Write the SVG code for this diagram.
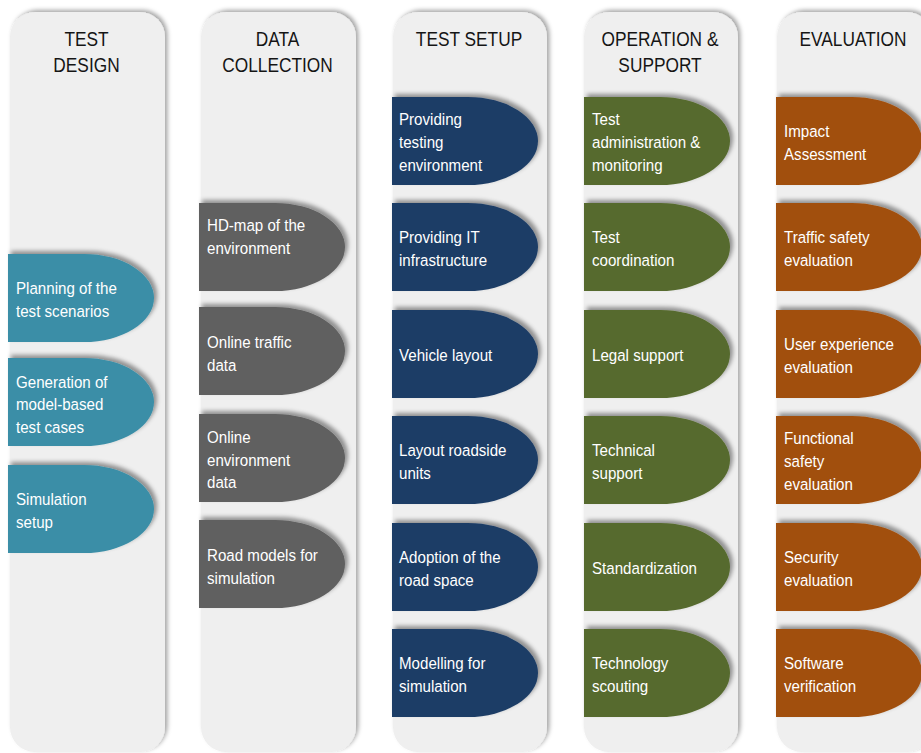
<svg xmlns="http://www.w3.org/2000/svg" width="921" height="753" viewBox="0 0 921 753">
  <defs>
    <filter id="panelShadow" x="-10%" y="-5%" width="120%" height="110%">
      <feDropShadow dx="2.5" dy="-2" stdDeviation="2" flood-color="#000" flood-opacity="0.35"/>
    </filter>
    <filter id="nodeShadow" x="-10%" y="-20%" width="120%" height="140%">
      <feDropShadow dx="3" dy="-3" stdDeviation="2.2" flood-color="#000" flood-opacity="0.4"/>
    </filter>
    <!-- delay-style node: flat left part, half-ellipse right part -->
    <path id="node" d="M0,0 H76 A70,44 0 0 1 76,88 H0 Z"/>
    <style>
      .panel { fill: #efefef; filter: url(#panelShadow); }
      .head { font-family: "Liberation Sans", Arial, sans-serif; font-size: 20px; fill: #151515; text-anchor: middle; }
      .lbl { font-family: "Liberation Sans", Arial, sans-serif; font-size: 16.8px; fill: #ffffff; }
      .nd { filter: url(#nodeShadow); }
      .c1 { fill: #3a8ea7; }
      .c2 { fill: #606060; }
      .c3 { fill: #1f3e66; }
      .c4 { fill: #566a2e; }
      .c5 { fill: #a1500f; }
    </style>
  </defs>

  <rect width="921" height="753" fill="#ffffff"/>

  <!-- column panels with headers -->
  <g id="col-test-design">
    <rect class="panel" x="10" y="12" width="155" height="740" rx="25"/>
    <text class="head" transform="matrix(0.865 0 0 1 86.5 46)"><tspan x="0" y="0">TEST</tspan><tspan x="0" y="26">DESIGN</tspan></text>
  </g>
  <g id="col-data-collection">
    <rect class="panel" x="201" y="12" width="155" height="740" rx="25"/>
    <text class="head" transform="matrix(0.865 0 0 1 277.5 46)"><tspan x="0" y="0">DATA</tspan><tspan x="0" y="26">COLLECTION</tspan></text>
  </g>
  <g id="col-test-setup">
    <rect class="panel" x="393" y="12" width="154" height="740" rx="25"/>
    <text class="head" transform="matrix(0.865 0 0 1 469 46)"><tspan x="0" y="0">TEST SETUP</tspan></text>
  </g>
  <g id="col-operation-support">
    <rect class="panel" x="584" y="12" width="154" height="740" rx="25"/>
    <text class="head" transform="matrix(0.865 0 0 1 660 46)"><tspan x="0" y="0">OPERATION &amp;</tspan><tspan x="0" y="26">SUPPORT</tspan></text>
  </g>
  <g id="col-evaluation">
    <rect class="panel" x="777" y="12" width="155" height="740" rx="25"/>
    <text class="head" transform="matrix(0.865 0 0 1 853 46)"><tspan x="0" y="0">EVALUATION</tspan></text>
  </g>

  <!-- TEST DESIGN nodes -->
  <g id="planning-test-scenarios">
    <use href="#node" class="nd c1" transform="translate(8 254)"/>
    <text class="lbl" transform="matrix(0.9 0 0 1 16 294)"><tspan x="0" y="0">Planning of the</tspan><tspan x="0" y="23">test scenarios</tspan></text>
  </g>
  <g id="generation-test-cases">
    <use href="#node" class="nd c1" transform="translate(8 358)"/>
    <text class="lbl" transform="matrix(0.9 0 0 1 16 388)"><tspan x="0" y="0">Generation of</tspan><tspan x="0" y="22.5">model-based</tspan><tspan x="0" y="45">test cases</tspan></text>
  </g>
  <g id="simulation-setup">
    <use href="#node" class="nd c1" transform="translate(8 465)"/>
    <text class="lbl" transform="matrix(0.9 0 0 1 16 505)"><tspan x="0" y="0">Simulation</tspan><tspan x="0" y="23">setup</tspan></text>
  </g>

  <!-- DATA COLLECTION nodes -->
  <g id="hd-map">
    <use href="#node" class="nd c2" transform="translate(199 203)"/>
    <text class="lbl" transform="matrix(0.9 0 0 1 207 231)"><tspan x="0" y="0">HD-map of the</tspan><tspan x="0" y="23">environment</tspan></text>
  </g>
  <g id="online-traffic-data">
    <use href="#node" class="nd c2" transform="translate(199 307)"/>
    <text class="lbl" transform="matrix(0.9 0 0 1 207 348)"><tspan x="0" y="0">Online traffic</tspan><tspan x="0" y="23">data</tspan></text>
  </g>
  <g id="online-environment-data">
    <use href="#node" class="nd c2" transform="translate(199 414)"/>
    <text class="lbl" transform="matrix(0.9 0 0 1 207 443)"><tspan x="0" y="0">Online</tspan><tspan x="0" y="23">environment</tspan><tspan x="0" y="45.5">data</tspan></text>
  </g>
  <g id="road-models">
    <use href="#node" class="nd c2" transform="translate(199 520)"/>
    <text class="lbl" transform="matrix(0.9 0 0 1 207 561)"><tspan x="0" y="0">Road models for</tspan><tspan x="0" y="23">simulation</tspan></text>
  </g>

  <!-- TEST SETUP nodes -->
  <g id="testing-environment">
    <use href="#node" class="nd c3" transform="translate(392 97)"/>
    <text class="lbl" transform="matrix(0.9 0 0 1 399 125)"><tspan x="0" y="0">Providing</tspan><tspan x="0" y="23">testing</tspan><tspan x="0" y="46">environment</tspan></text>
  </g>
  <g id="it-infrastructure">
    <use href="#node" class="nd c3" transform="translate(392 203)"/>
    <text class="lbl" transform="matrix(0.9 0 0 1 399 243)"><tspan x="0" y="0">Providing IT</tspan><tspan x="0" y="23">infrastructure</tspan></text>
  </g>
  <g id="vehicle-layout">
    <use href="#node" class="nd c3" transform="translate(392 310)"/>
    <text class="lbl" transform="matrix(0.9 0 0 1 399 361)">Vehicle layout</text>
  </g>
  <g id="roadside-units">
    <use href="#node" class="nd c3" transform="translate(392 416)"/>
    <text class="lbl" transform="matrix(0.9 0 0 1 399 456)"><tspan x="0" y="0">Layout roadside</tspan><tspan x="0" y="23">units</tspan></text>
  </g>
  <g id="road-space">
    <use href="#node" class="nd c3" transform="translate(392 523)"/>
    <text class="lbl" transform="matrix(0.9 0 0 1 399 563)"><tspan x="0" y="0">Adoption of the</tspan><tspan x="0" y="23">road space</tspan></text>
  </g>
  <g id="modelling-simulation">
    <use href="#node" class="nd c3" transform="translate(392 629)"/>
    <text class="lbl" transform="matrix(0.9 0 0 1 399 669)"><tspan x="0" y="0">Modelling for</tspan><tspan x="0" y="23">simulation</tspan></text>
  </g>

  <!-- OPERATION & SUPPORT nodes -->
  <g id="test-administration">
    <use href="#node" class="nd c4" transform="translate(584 97)"/>
    <text class="lbl" transform="matrix(0.9 0 0 1 592 125)"><tspan x="0" y="0">Test</tspan><tspan x="0" y="23">administration &amp;</tspan><tspan x="0" y="46">monitoring</tspan></text>
  </g>
  <g id="test-coordination">
    <use href="#node" class="nd c4" transform="translate(584 203)"/>
    <text class="lbl" transform="matrix(0.9 0 0 1 592 243)"><tspan x="0" y="0">Test</tspan><tspan x="0" y="23">coordination</tspan></text>
  </g>
  <g id="legal-support">
    <use href="#node" class="nd c4" transform="translate(584 310)"/>
    <text class="lbl" transform="matrix(0.9 0 0 1 592 361)">Legal support</text>
  </g>
  <g id="technical-support">
    <use href="#node" class="nd c4" transform="translate(584 416)"/>
    <text class="lbl" transform="matrix(0.9 0 0 1 592 456)"><tspan x="0" y="0">Technical</tspan><tspan x="0" y="23">support</tspan></text>
  </g>
  <g id="standardization">
    <use href="#node" class="nd c4" transform="translate(584 523)"/>
    <text class="lbl" transform="matrix(0.9 0 0 1 592 574)">Standardization</text>
  </g>
  <g id="technology-scouting">
    <use href="#node" class="nd c4" transform="translate(584 629)"/>
    <text class="lbl" transform="matrix(0.9 0 0 1 592 669)"><tspan x="0" y="0">Technology</tspan><tspan x="0" y="23">scouting</tspan></text>
  </g>

  <!-- EVALUATION nodes -->
  <g id="impact-assessment">
    <use href="#node" class="nd c5" transform="translate(776 97)"/>
    <text class="lbl" transform="matrix(0.9 0 0 1 784 137)"><tspan x="0" y="0">Impact</tspan><tspan x="0" y="23">Assessment</tspan></text>
  </g>
  <g id="traffic-safety">
    <use href="#node" class="nd c5" transform="translate(776 203)"/>
    <text class="lbl" transform="matrix(0.9 0 0 1 784 243)"><tspan x="0" y="0">Traffic safety</tspan><tspan x="0" y="23">evaluation</tspan></text>
  </g>
  <g id="user-experience">
    <use href="#node" class="nd c5" transform="translate(776 310)"/>
    <text class="lbl" transform="matrix(0.9 0 0 1 784 350)"><tspan x="0" y="0">User experience</tspan><tspan x="0" y="23">evaluation</tspan></text>
  </g>
  <g id="functional-safety">
    <use href="#node" class="nd c5" transform="translate(776 416)"/>
    <text class="lbl" transform="matrix(0.9 0 0 1 784 444)"><tspan x="0" y="0">Functional</tspan><tspan x="0" y="23">safety</tspan><tspan x="0" y="46">evaluation</tspan></text>
  </g>
  <g id="security">
    <use href="#node" class="nd c5" transform="translate(776 523)"/>
    <text class="lbl" transform="matrix(0.9 0 0 1 784 563)"><tspan x="0" y="0">Security</tspan><tspan x="0" y="23">evaluation</tspan></text>
  </g>
  <g id="software-verification">
    <use href="#node" class="nd c5" transform="translate(776 629)"/>
    <text class="lbl" transform="matrix(0.9 0 0 1 784 669)"><tspan x="0" y="0">Software</tspan><tspan x="0" y="23">verification</tspan></text>
  </g>

  <!-- no connectors in this diagram -->
  <g id="connectors"/>
</svg>
